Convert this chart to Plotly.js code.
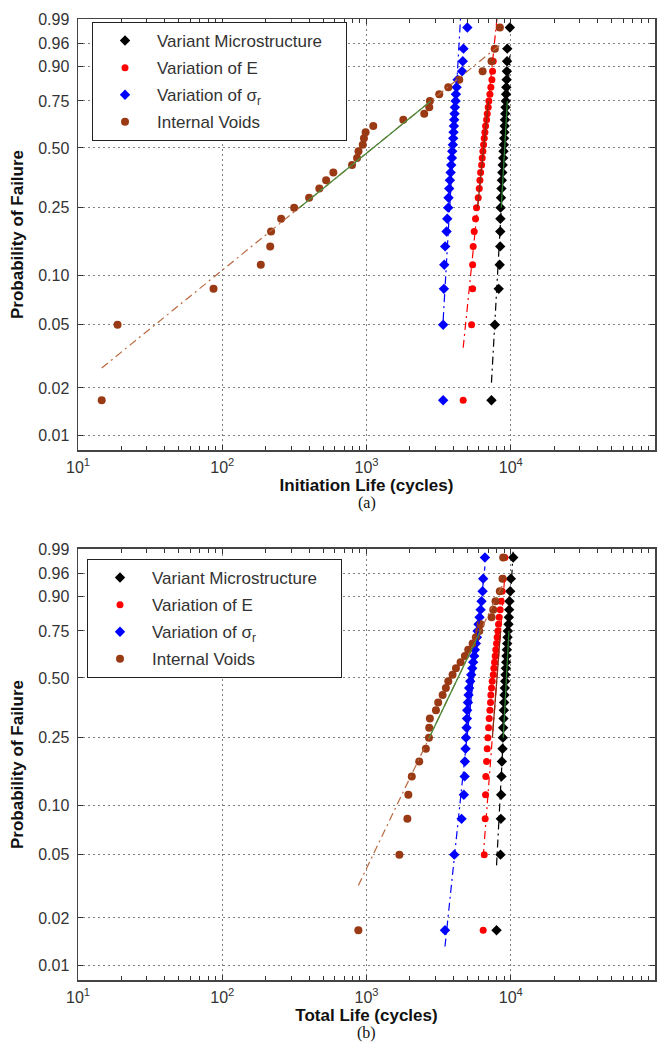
<!DOCTYPE html>
<html><head><meta charset="utf-8">
<script src="https://cdn.plot.ly/plotly-3.0.1.min.js"></script>
<style>html,body{margin:0;padding:0;background:#fff}#chart{width:666px;height:1057px}</style>
</head><body><div id="chart"></div>
<script>
// ---------- data ----------
const seriesNames = ['Variant Microstructure', 'Variation of E', 'Variation of σ<sub>r</sub>', 'Internal Voids'];
const probTicks = [0.01, 0.02, 0.05, 0.10, 0.25, 0.50, 0.75, 0.90, 0.96, 0.99];
const probTickLabels = ['0.01', '0.02', '0.05', '0.10', '0.25', '0.50', '0.75', '0.90', '0.96', '0.99'];
const lifeTicks = [10, 100, 1000, 10000, 100000];
const lifeTickLabels = ['10<sup>1</sup>', '10<sup>2</sup>', '10<sup>3</sup>', '10<sup>4</sup>', '10<sup>5</sup>'];
// plotting positions (median ranks) of the 30 samples in each series
const rankProb = [0.0167, 0.05, 0.0833, 0.1167, 0.15, 0.1833, 0.2167, 0.25, 0.2833, 0.3167,
  0.35, 0.3833, 0.4167, 0.45, 0.4833, 0.5167, 0.55, 0.5833, 0.6167, 0.65,
  0.6833, 0.7167, 0.75, 0.7833, 0.8167, 0.85, 0.8833, 0.9167, 0.95, 0.9833];

// (a) Initiation life (cycles)
const initMicro = [7350, 7760, 8250, 8380, 8450, 8460, 8480, 8500, 8560, 8620, 8680, 8740, 8800, 8860, 8910, 8960, 9000, 9040, 9080, 9120, 9160, 9200, 9240, 9280, 9320, 9360, 9400, 9430, 9460, 9860];
const initE = [4680, 5350, 5440, 5440, 5490, 5580, 5700, 5790, 5950, 6050, 6110, 6180, 6280, 6340, 6410, 6480, 6550, 6620, 6690, 6800, 6870, 6980, 7050, 7170, 7280, 7400, 7480, 7560, 7680, 8320];
const initSigma = [3400, 3400, 3440, 3460, 3510, 3590, 3630, 3685, 3705, 3745, 3786, 3829, 3866, 3910, 3930, 3970, 3991, 4013, 4036, 4055, 4081, 4101, 4147, 4167, 4214, 4280, 4600, 4650, 4700, 5000];
const initVoids = [14.6, 18.8, 87, 185, 215, 218, 256, 315, 400, 471, 525, 589, 794, 860, 880, 942, 960, 986, 1114, 1800, 2513, 2723, 2750, 3193, 3690, 4397, 6383, 7360, 7760, 8410];
// Weibull reference lines (shape, scale) for (a), same series order
const initShape = [16.4, 9.0, 16.05, 0.749];
const initScale = [9280, 6761, 4074, 1807];

// (b) Total life (cycles)
const totalMicro = [7970, 8490, 8540, 8580, 8630, 8680, 8770, 8820, 8860, 8910, 8960, 9000, 9050, 9100, 9150, 9200, 9250, 9300, 9350, 9400, 9450, 9500, 9550, 9650, 9700, 9750, 9800, 9910, 10020, 10400];
const totalE = [6440, 6550, 6650, 6690, 6720, 6800, 6870, 6940, 7020, 7090, 7170, 7240, 7280, 7360, 7440, 7560, 7640, 7720, 7800, 7880, 7970, 8050, 8140, 8230, 8310, 8450, 8580, 8720, 8860, 9100];
const totalSigma = [3500, 4060, 4560, 4730, 4790, 4810, 4860, 4890, 4940, 4970, 4990, 5050, 5100, 5150, 5240, 5320, 5410, 5490, 5580, 5640, 5730, 5830, 5890, 5980, 6080, 6180, 6270, 6380, 6440, 6620];
const totalVoids = [878, 1690, 1920, 1950, 2060, 2320, 2580, 2710, 2720, 2750, 3030, 3140, 3370, 3550, 3690, 3950, 4170, 4490, 4810, 5070, 5440, 5730, 6050, 6180, 7360, 7560, 7840, 8400, 8770, 8860];
const totalShape = [17.5, 12.0, 8.79, 1.925];
const totalScale = [9530, 8272, 5724, 5200];

// ---------- styles ----------
const markerColors = ['#000000', '#ff0000', '#0000ff', '#9a3a14'];
const markerSymbols = ['diamond', 'circle', 'diamond', 'circle'];
const markerSizes = [8, 7, 8, 8];
const fitColors = ['#000000', '#ff0000', '#0000ff', '#b8693e'];
const quartColors = ['#2e7d32', '#8b2a10', '#0000ff', '#4a8a3a'];
const FONT = 'Liberation Sans, Arial, sans-serif';

// ---------- helpers ----------
const W = p => Math.log(-Math.log(1 - p));   // Weibull probability scale

function panelTraces(seriesList, shapes, scales, xa, ya, legendId) {
  const tr = [];
  const yv = rankProb.map(W);
  seriesList.forEach((xs, i) => {
    tr.push({
      x: xs, y: yv, type: 'scatter', mode: 'markers',
      name: seriesNames[i] + (i === 0 ? '\u00a0\u00a0\u00a0\u00a0' : ''),
      legendgroup: legendId + 'g' + i,
      xaxis: xa, yaxis: ya, legend: legendId,
      marker: {symbol: markerSymbols[i], color: markerColors[i], size: markerSizes[i], line: {width: 0}},
      hoverinfo: 'x+name'
    });
  });
  seriesList.forEach((xs, i) => {
    const k = shapes[i], lam = scales[i];
    const lo = Math.min(...xs), hi = Math.max(...xs);
    tr.push({
      x: [lo, hi], y: [k * Math.log(lo / lam), k * Math.log(hi / lam)],
      type: 'scatter', mode: 'lines', xaxis: xa, yaxis: ya, showlegend: false, hoverinfo: 'skip',
      line: {color: fitColors[i], width: 1.2, dash: '8px,4px,2px,4px'}
    });
  });
  seriesList.forEach((xs, i) => {
    const k = shapes[i], lam = scales[i];
    tr.push({
      x: [lam * Math.pow(-Math.log(0.75), 1 / k), lam * Math.pow(-Math.log(0.25), 1 / k)],
      y: [W(0.25), W(0.75)],
      type: 'scatter', mode: 'lines', xaxis: xa, yaxis: ya, showlegend: false, hoverinfo: 'skip',
      line: {color: quartColors[i], width: 1.3}
    });
  });
  return tr;
}

const traces = [].concat(
  panelTraces([initMicro, initE, initSigma, initVoids], initShape, initScale, 'x', 'y', 'legend'),
  panelTraces([totalMicro, totalE, totalSigma, totalVoids], totalShape, totalScale, 'x2', 'y2', 'legend2')
);

const minorVals = [];
for (let d = 1; d < 5; d++) for (let m = 2; m <= 9; m++) minorVals.push(m * Math.pow(10, d));

const tickFont = {family: FONT, size: 16, color: '#333'};
const titleFont = {family: FONT, size: 17, color: '#111', weight: 'bold'};

function xAxis(title, anchor) {
  return {
    type: 'log', range: [1, 5], anchor: anchor,
    tickmode: 'array', tickvals: lifeTicks, ticktext: lifeTickLabels,
    ticks: 'inside', ticklen: 5, tickcolor: '#333', tickfont: tickFont, ticklabelstandoff: 2,
    showline: true, linecolor: '#444', linewidth: 1.5, mirror: 'ticks',
    showgrid: true, gridcolor: '#808080', griddash: '2px,3px', gridwidth: 1, zeroline: false,
    minor: {tickmode: 'array', tickvals: minorVals, ticks: 'inside', ticklen: 4, tickcolor: '#333', showgrid: false},
    title: {text: title, font: titleFont, standoff: 4}
  };
}
function yAxis(domain, anchor) {
  return {
    domain: domain, anchor: anchor, range: [-4.817, 1.534],
    tickmode: 'array', tickvals: probTicks.map(W), ticktext: probTickLabels,
    ticks: 'inside', ticklen: 5, tickcolor: '#333', tickfont: tickFont, ticklabelstandoff: 4,
    showline: true, linecolor: '#444', linewidth: 1.5, mirror: 'ticks',
    showgrid: true, gridcolor: '#808080', griddash: '2px,3px', gridwidth: 1, zeroline: false,
    title: {text: 'Probability of Failure', font: titleFont, standoff: 10}
  };
}

const legendBase = {
  xanchor: 'left', yanchor: 'top', bgcolor: '#ffffff', bordercolor: '#222', borderwidth: 1,
  font: {family: FONT, size: 17, color: '#333'}, itemwidth: 54, tracegroupgap: 2
};

const layout = {
  width: 666, height: 1057,
  margin: {l: 78, r: 11, t: 19, b: 77},
  paper_bgcolor: '#fff', plot_bgcolor: '#fff',
  xaxis: xAxis('Initiation Life (cycles)', 'y'),
  yaxis: yAxis([0.5515, 1], 'x'),
  xaxis2: xAxis('Total Life (cycles)', 'y2'),
  yaxis2: yAxis([0, 0.4485], 'x2'),
  legend: Object.assign({}, legendBase, {x: 0.0243, y: 0.9969}),
  legend2: Object.assign({}, legendBase, {x: 0.0156, y: 0.4381}),
  annotations: [
    {text: '(a)', xref: 'paper', yref: 'paper', x: 0.5, y: 0.4964, showarrow: false,
     font: {family: 'Liberation Serif, Times New Roman, serif', size: 16, color: '#111'}},
    {text: '(b)', xref: 'paper', yref: 'paper', x: 0.5, y: -0.0666, showarrow: false,
     font: {family: 'Liberation Serif, Times New Roman, serif', size: 16, color: '#111'}}
  ]
};

Plotly.newPlot('chart', traces, layout, {staticPlot: true, displayModeBar: false});
</script>
</body></html>
